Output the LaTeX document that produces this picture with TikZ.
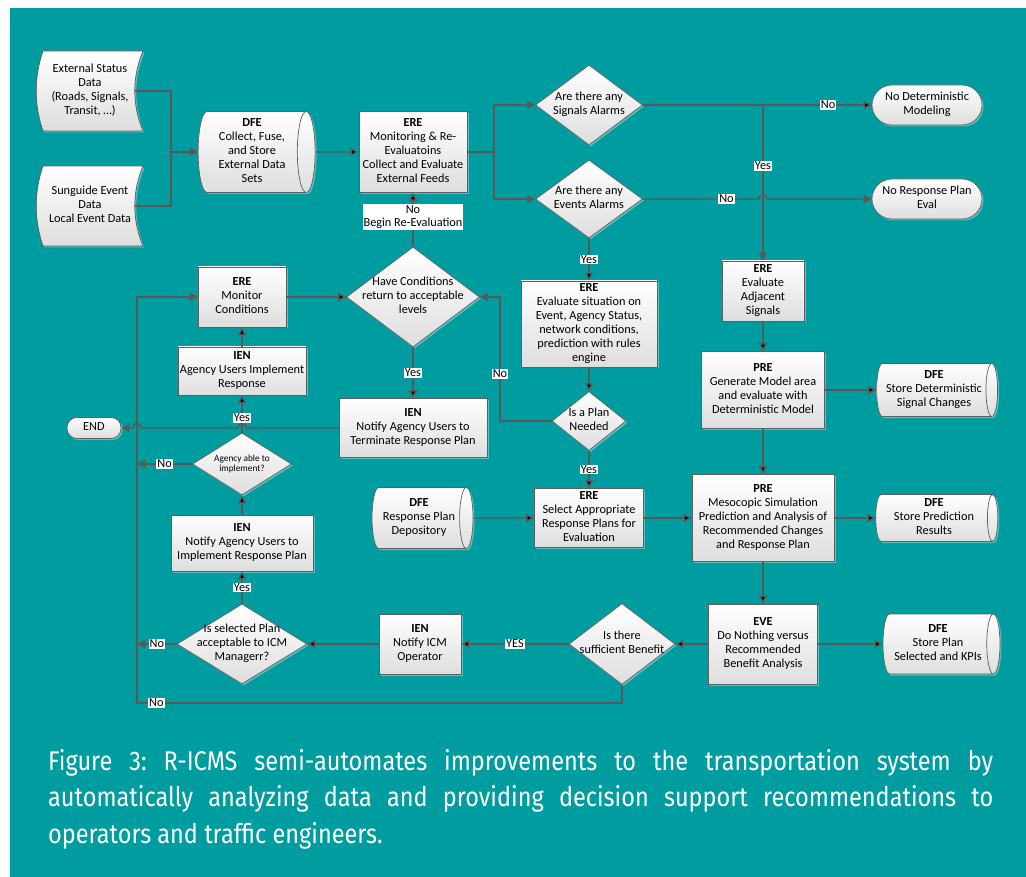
\documentclass[tikz,border=0pt]{standalone}
\usepackage{fontspec}
\setmainfont{Carlito}
\newfontfamily\capfont[FakeStretch=0.87]{Fira Sans}
\usetikzlibrary{positioning,shapes.geometric,shadows,arrows.meta}
\definecolor{bgteal}{RGB}{0,157,160}
\definecolor{linegray}{RGB}{89,89,89}
\definecolor{boxline}{RGB}{95,95,95}
\definecolor{boxlow}{RGB}{222,222,222}
% node text: a zero size block, the shape size comes from minimum width/height
\newcommand{\tx}[1]{\makebox[0pt]{\smash{\raisebox{-2.8pt}{\begin{tabular}{@{}c@{}}#1\end{tabular}}}}}
% wavy input sheet, drawn round a centre coordinate
\newcommand{\tapeoutline}[1]{%
	\filldraw[draw=boxline, line width=0.7pt, top color=white, bottom color=boxlow,
		drop shadow={shadow xshift=1.5pt, shadow yshift=-1.5pt, opacity=0.35, fill=white}]
		([shift={(-47,40)}]#1) -- ([shift={(53,40)}]#1)
		.. controls ([shift={(42,14)}]#1) and ([shift={(42,-14)}]#1) .. ([shift={(53,-40)}]#1)
		-- ([shift={(-47,-40)}]#1)
		.. controls ([shift={(-56,-14)}]#1) and ([shift={(-56,14)}]#1) .. ([shift={(-47,40)}]#1)
		-- cycle;}

\begin{document}
\begin{tikzpicture}[x=1pt, y=1pt, on grid, >={Triangle[length=8pt, width=8pt]},
		font=\fontsize{12.3}{14}\selectfont,
		flow/.style={draw=linegray, line width=1.4pt},
		lbl/.style={fill=white, inner sep=1pt},
		shade/.style={draw=boxline, line width=0.7pt, top color=white, bottom color=boxlow, inner sep=0pt,
			drop shadow={shadow xshift=1.5pt, shadow yshift=-1.5pt, opacity=0.35, fill=white}},
		box/.style={shade, rectangle},
		decision/.style={shade, diamond},
		store/.style={shade, cylinder, aspect=0.22, text height=#1, text depth=#1},
		terminal/.style={shade, rectangle, rounded corners=20pt},
		tapebox/.style={rectangle, inner sep=0pt, minimum width=90pt, minimum height=80pt}]
		\useasboundingbox (0,0) rectangle (1026,-877);
		\fill[bgteal] (10,-8) rectangle (1026,-877);

		% inputs
		\coordinate (extPos) at (90,-91);
		\coordinate (sunPos) at (90,-206);
		\tapeoutline{extPos}
		\tapeoutline{sunPos}
		\node[tapebox] (extStatus) at (extPos) {\tx{External Status\\Data\\(Roads, Signals,\\Transit, \dots)}};
		\node[tapebox] (sunguide) at (sunPos) {\tx{Sunguide Event\\Data\\Local Event Data}};

		% top row (a store: minimum height is its length, store=half its diameter)
		\node[store=40.5pt, minimum height=117pt] (dfeCollect) [below right=61pt and 162pt of extStatus] {\tx{\textbf{DFE}\\Collect, Fuse,\\and Store\\External Data\\Sets}};
		\node[box, minimum width=108pt, minimum height=81pt] (ereMonitor) [right=161pt of dfeCollect] {\tx{\textbf{ERE}\\Monitoring \& Re-\\Evaluatoins\\Collect and Evaluate\\External Feeds}};
		\node[decision, minimum width=107pt, minimum height=80pt] (dSignals) [above right=47pt and 176pt of ereMonitor] {\tx{Are there any\\Signals Alarms}};
		\node[decision, minimum width=107pt, minimum height=78pt] (dEvents) [below=94pt of dSignals] {\tx{Are there any\\Events Alarms}};
		\node[terminal, minimum width=110pt, minimum height=40pt] (tNoModel) [right=338pt of dSignals] {\tx{No Deterministic\\Modeling}};
		\node[terminal, minimum width=110pt, minimum height=40pt] (tNoEval) [right=338pt of dEvents] {\tx{No Response Plan\\Eval}};

		% event branch
		\node[box, minimum width=136pt, minimum height=86pt] (ereSituation) [below=125pt of dEvents] {\tx{\textbf{ERE}\\Evaluate situation on\\Event, Agency Status,\\network conditions,\\prediction with rules\\engine}};
		\node[decision, minimum width=74pt, minimum height=59pt] (dPlan) [below=97pt of ereSituation] {\tx{Is a Plan\\Needed}};
		\node[box, minimum width=109pt, minimum height=59pt] (ereSelect) [below=97pt of dPlan] {\tx{\textbf{ERE}\\Select Appropriate\\Response Plans for\\Evaluation}};
		\node[store=30.5pt, minimum height=101pt] (dfeDepository) [left=170pt of ereSelect] {\tx{\textbf{DFE}\\Response Plan\\Depository}};

		% signal branch and prediction
		\node[box, minimum width=82pt, minimum height=60pt] (ereAdjacent) [below right=92pt and 174pt of dEvents] {\tx{\textbf{ERE}\\Evaluate\\Adjacent\\Signals}};
		\node[box, minimum width=123pt, minimum height=77pt] (preModel) [below=99pt of ereAdjacent] {\tx{\textbf{PRE}\\Generate Model area\\and evaluate with\\Deterministic Model}};
		\node[store=26.5pt, minimum height=121pt] (dfeSignal) [right=171pt of preModel] {\tx{\textbf{DFE}\\Store Deterministic\\Signal Changes}};
		\node[box, minimum width=142pt, minimum height=87pt] (preSim) [below=128pt of preModel] {\tx{\textbf{PRE}\\Mesocopic Simulation\\Prediction and Analysis of\\Recommended Changes\\and Response Plan}};
		\node[store=23.5pt, minimum height=122pt] (dfePrediction) [right=171pt of preSim] {\tx{\textbf{DFE}\\Store Prediction\\Results}};
		\node[box, minimum width=109pt, minimum height=80pt] (eve) [below=126pt of preSim] {\tx{\textbf{EVE}\\Do Nothing versus\\Recommended\\Benefit Analysis}};
		\node[store=30pt, minimum height=117pt] (dfePlan) [right=175pt of eve] {\tx{\textbf{DFE}\\Store Plan\\Selected and KPIs}};

		% bottom row and the implement column
		\node[decision, minimum width=106pt, minimum height=81pt] (dBenefit) [left=141pt of eve] {\tx{Is there\\sufficient Benefit}};
		\node[box, minimum width=82pt, minimum height=60pt] (ienOperator) [left=202pt of dBenefit] {\tx{\textbf{IEN}\\Notify ICM\\Operator}};
		\node[decision, minimum width=130pt, minimum height=80pt] (dAccept) [left=178pt of ienOperator] {\tx{Is selected Plan\\acceptable to ICM\\Managerr?}};
		\node[box, minimum width=142pt, minimum height=56pt] (ienImplement) [above=101pt of dAccept] {\tx{\textbf{IEN}\\Notify Agency Users to\\Implement Response Plan}};
		\node[decision, minimum width=99pt, minimum height=62pt, font=\fontsize{9.3}{10.5}\selectfont] (dAble) [above=79pt of ienImplement] {\tx{Agency able to\\implement?}};
		\node[box, minimum width=128pt, minimum height=48pt] (ienAgency) [above=93pt of dAble] {\tx{\textbf{IEN}\\Agency Users Implement\\Response}};
		\node[box, minimum width=88pt, minimum height=60pt] (ereConditions) [above=74pt of ienAgency] {\tx{\textbf{ERE}\\Monitor\\Conditions}};
		\node[decision, minimum width=133pt, minimum height=100pt] (dConditions) [right=171pt of ereConditions] {\tx{Have Conditions\\return to acceptable\\levels}};
		\node[box, minimum width=148pt, minimum height=59pt] (ienTerminate) [below=131pt of dConditions] {\tx{\textbf{IEN}\\Notify Agency Users to\\Terminate Response Plan}};
		\node[terminal, rounded corners=10pt, minimum width=54pt, minimum height=21pt] (finish) [left=319pt of ienTerminate] {\tx{END}};

		% turning points
		\coordinate (feedJoin) at (171,-152);
		\coordinate (alarmSplit) at (494,-152);
		\coordinate (planNo) at (500,-421);
		\coordinate (loopCorner) at (137,-703);
		\coordinate (yesDrop) at (ereAdjacent |- dSignals);
		\coordinate (hopSig) at (ereAdjacent |- dEvents);
		\coordinate (hopYes) at (ienAgency |- ienTerminate);
		\coordinate (hopLeft) at (loopCorner |- ienTerminate);

		\draw[flow] (extStatus.east) -| (feedJoin);
		\draw[flow] (sunguide.east) -| (feedJoin);
		\draw[flow, ->] (feedJoin) -- (dfeCollect.west);
		\draw[flow] (ereMonitor.east) -- (alarmSplit);
		\draw[flow, ->] (alarmSplit) |- (dSignals.west);
		\draw[flow, ->] (alarmSplit) |- (dEvents.west);
		\draw[flow, ->] (yesDrop) -- node[lbl, pos=0.39] {Yes} (ereAdjacent.north);
		\draw[flow, ->] (dEvents.east) -- node[lbl, pos=0.72] {No} ([xshift=-4pt]hopSig)
			.. controls +(0,6) and +(0,6) .. ([xshift=4pt]hopSig) -- (tNoEval.west);
		\draw[flow, ->] (ienTerminate.west) -- ([xshift=4pt]hopYes)
			.. controls +(0,6) and +(0,6) .. ([xshift=-4pt]hopYes) -- ([xshift=4pt]hopLeft)
			.. controls +(0,6) and +(0,6) .. ([xshift=-4pt]hopLeft) -- (finish.east);
		\draw[flow, ->] (dBenefit.south) |- node[lbl, pos=0.98] {No} (loopCorner) |- (ereConditions.west);
		\draw[flow, ->] (dAccept.west) -- node[lbl] {No} (dAccept.west -| loopCorner);
		\draw[flow, ->] (dAble.west) -- node[lbl] {No} (dAble.west -| loopCorner);
		\draw[flow, ->] (dPlan.west) -- (planNo) |- node[lbl, pos=0.19] {No} (dConditions.east);
		\path[flow, ->]
			(dfeCollect) edge (ereMonitor)
			(dSignals) edge node[lbl, pos=0.81] {No} (tNoModel)
			(dEvents) edge node[lbl] {Yes} (ereSituation)
			(ereSituation) edge (dPlan)
			(dPlan) edge node[lbl] {Yes} (ereSelect)
			(dfeDepository) edge (ereSelect)
			(ereSelect) edge (preSim)
			(ereAdjacent) edge (preModel)
			(preModel) edge (dfeSignal)
			(preModel) edge (preSim)
			(preSim) edge (dfePrediction)
			(preSim) edge (eve)
			(eve) edge (dfePlan)
			(eve) edge (dBenefit)
			(dBenefit) edge node[lbl] {YES} (ienOperator)
			(ienOperator) edge (dAccept)
			(dAccept) edge node[lbl] {Yes} (ienImplement)
			(ienImplement) edge (dAble)
			(dAble) edge node[lbl, pos=0.4] {Yes} (ienAgency)
			(ienAgency) edge (ereConditions)
			(ereConditions) edge (dConditions)
			(dConditions) edge node[lbl] {Yes} (ienTerminate)
			(dConditions) edge node[lbl, pos=0.55, align=center, font=\fontsize{12.3}{13.5}\selectfont] {No\\Begin Re-Evaluation} (ereMonitor)
		;

		\node[anchor=north west, text width=945pt, align=justify, text=white, inner sep=0pt,
			font=\capfont\fontsize{27}{36.5}\selectfont\frenchspacing] (caption) at (48,-749)
			{Figure 3: R-ICMS semi-automates improvements to the transportation system by\linebreak
			automatically analyzing data and providing decision support recommendations to\linebreak
			operators and traffic engineers.};
	\end{tikzpicture}
\end{document}
